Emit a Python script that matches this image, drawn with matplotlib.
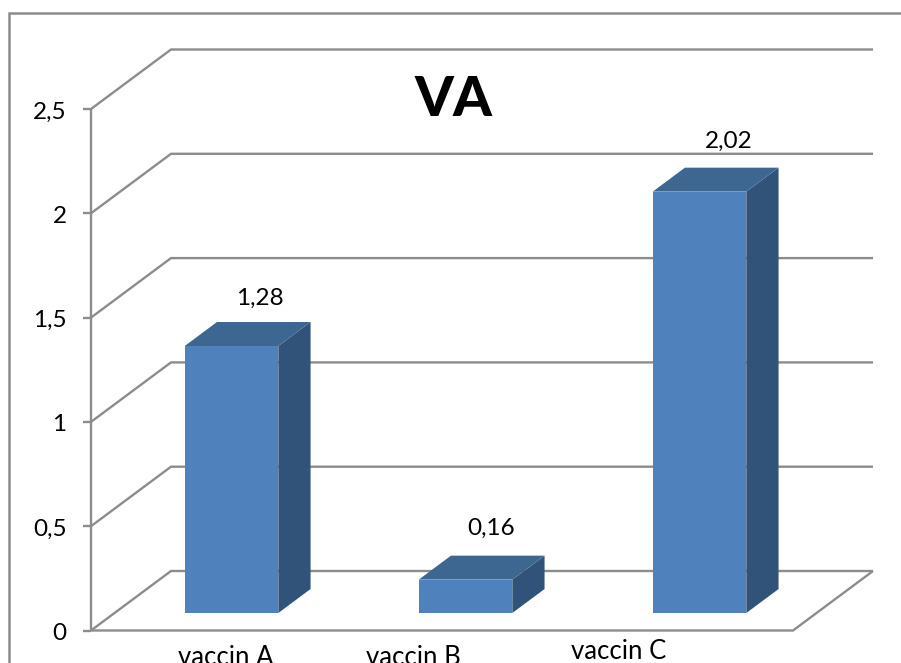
#! /usr/bin/env python
# -*- coding: utf-8 -*-
import matplotlib
matplotlib.use("Agg")
import matplotlib.pyplot as plt

categories = ["vaccin A", "vaccin B", "vaccin C"]
values = [1.28, 0.16, 2.02]
value_labels = ["1,28", "0,16", "2,02"]
y_ticks = [0, 0.5, 1, 1.5, 2, 2.5]
y_tick_labels = ["0", "0,5", "1", "1,5", "2", "2,5"]
title = "VA"

# px on the 901x663 picture
W, H = 901, 663
X0, Y0 = 91, 630.5      # origin of the front plane
CAT_W = 234             # px per category
UNIT_H = 208.6          # px per value unit
DEPTH_X, DEPTH_Y = 80, 59.5
BAR_W = 0.4
D_FRONT, D_BACK = 0.294, 0.697

plt.rcParams["font.family"] = ["Lato", "DejaVu Sans"]
GRID = "#8c8c8c"
FRONT = "#4f81bd"
TOP = "#3d6691"
SIDE = "#325379"


def pr(c, v, d=0.0):
    # oblique projection of category / value / depth
    return c + d * DEPTH_X / CAT_W, v + d * DEPTH_Y / UNIT_H


def px(x, y):
    return (x - X0) / CAT_W, (Y0 - y) / UNIT_H


fig = plt.figure(figsize=(W / 100, H / 100), dpi=100, facecolor="w")
ax = fig.add_axes([0, 0, 1, 1])
ax.set_xlim(-X0 / CAT_W, (W - X0) / CAT_W)
ax.set_ylim((Y0 - H) / UNIT_H, Y0 / UNIT_H)
ax.axis("off")


def line(points, lw=1.7, z=1):
    xs = [p[0] for p in points]
    ys = [p[1] for p in points]
    ax.plot(xs, ys, color=GRID, lw=lw, zorder=z, solid_joinstyle="miter",
            solid_capstyle="butt", clip_on=False)


# outer frame, open on right and bottom
line([px(8.5, 663), px(8.5, 13), px(901, 13)], lw=1.8)

n = len(categories)
# walls
for t, lab in zip(y_ticks, y_tick_labels):
    line([pr(0, t, 0), pr(0, t, 1), pr(n, t, 1)])
    line([px(83, Y0 - t * UNIT_H), px(91, Y0 - t * UNIT_H)])
    x, y = px(66.5, Y0 - t * UNIT_H + 3)
    ax.text(x, y, lab, ha="right", va="center", fontsize=17.5, color="k")
line([pr(0, 0), pr(0, y_ticks[-1])])
line([pr(0, 0), pr(n, 0), pr(n, 0, 1)], z=1)

# bars
for i, v in enumerate(values):
    c0 = i + 0.5 - BAR_W / 2
    c1 = i + 0.5 + BAR_W / 2
    front = [pr(c0, 0, D_FRONT), pr(c1, 0, D_FRONT), pr(c1, v, D_FRONT), pr(c0, v, D_FRONT)]
    top = [pr(c0, v, D_FRONT), pr(c1, v, D_FRONT), pr(c1, v, D_BACK), pr(c0, v, D_BACK)]
    side = [pr(c1, 0, D_FRONT), pr(c1, 0, D_BACK), pr(c1, v, D_BACK), pr(c1, v, D_FRONT)]
    for poly, col in ((side, SIDE), (top, TOP), (front, FRONT)):
        ax.fill([p[0] for p in poly], [p[1] for p in poly], color=col, lw=0, zorder=3)

# labels sit where the original placed them
label_px = [(260, 298), (491, 528), (729, 141)]
for txt, (x, y) in zip(value_labels, label_px):
    ax.text(*px(x, y), txt, ha="center", va="center", fontsize=17.5, color="k", zorder=4)

cat_px = [(226, 665), (413, 665), (619, 659)]
for txt, (x, y) in zip(categories, cat_px):
    ax.text(*px(x, y), txt, ha="center", va="baseline", fontsize=18.5, color="k", clip_on=True)

ax.text(*px(453, 100), title, ha="center", va="center", fontsize=40, fontweight="black", color="k")

fig.savefig("out.png", dpi=100)
